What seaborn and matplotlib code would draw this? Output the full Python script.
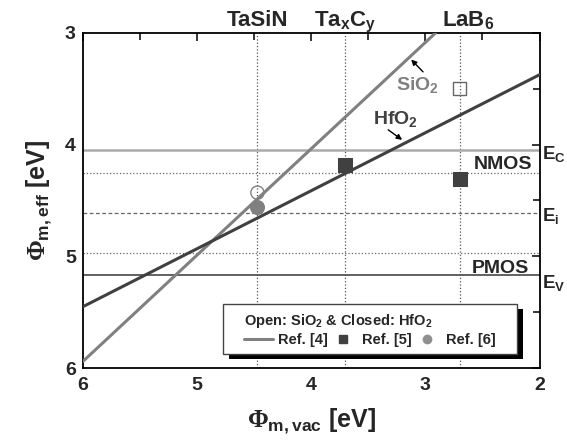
import matplotlib
matplotlib.use("Agg")
import matplotlib.pyplot as plt
import seaborn as sns
from matplotlib.lines import Line2D
from matplotlib.patches import Rectangle
from matplotlib.transforms import IdentityTransform
from matplotlib.ticker import MultipleLocator

# Fermi-level pinning lines: end points (vacuum WF, effective WF)
sio2_vac = [6.0, 2.908]
sio2_eff = [5.94, 3.0]
hfo2_vac = [6.0, 2.0]
hfo2_eff = [5.45, 3.376]

# Gate metals and their vacuum work functions
metals = ["TaSiN", r"Ta$_\mathbf{x}$C$_\mathbf{y}$", r"LaB$_\mathbf{6}$"]
metal_vac = [4.47, 3.70, 2.70]
metal_label_x = [4.47, 3.70, 2.625]

# Measured effective work functions
ref5_hfo2_vac = [3.70, 2.70]
ref5_hfo2_eff = [4.18, 4.31]
ref5_sio2_vac = [2.70]
ref5_sio2_eff = [3.50]
ref6_sio2_vac = [4.47]
ref6_sio2_eff = [4.43]
ref6_hfo2_vac = [4.47]
ref6_hfo2_eff = [4.555]

# Silicon band levels and CMOS targets
e_c, e_i, e_v = 4.05, 4.61, 5.17
nmos_target, pmos_target = 4.25, 4.97

GRAY = "#808080"
DARK = "#404040"

sns.set_theme(style="white")
plt.rcParams["font.family"] = ["Liberation Sans", "DejaVu Sans"]
plt.rcParams["font.weight"] = "bold"
plt.rcParams["axes.labelweight"] = "bold"
plt.rcParams["mathtext.fontset"] = "custom"
plt.rcParams["mathtext.rm"] = "Liberation Serif"
plt.rcParams["mathtext.bf"] = "Liberation Sans:bold"
plt.rcParams["mathtext.sf"] = "Liberation Sans:bold"
plt.rcParams["mathtext.it"] = "Liberation Sans:bold"

fig = plt.figure(figsize=(5.67, 4.46), dpi=100)
ax = fig.add_axes([0.1459, 0.1742, 0.8056, 0.7525])

# reference grid of levels
for xv in metal_vac:
    ax.axvline(xv, color="#555555", ls=":", lw=0.9, zorder=1)
ax.axhline(e_c, color="#aaaaaa", lw=1.8, zorder=1)
ax.axhline(nmos_target, color="#666666", ls=":", lw=0.9, zorder=1)
ax.axhline(e_i, color="#666666", lw=0.9, dashes=(3, 2), zorder=1)
ax.axhline(pmos_target, color="#666666", ls=":", lw=0.9, zorder=1)
ax.axhline(e_v, color="#555555", lw=1.3, zorder=1)

# pinning lines
sns.lineplot(x=sio2_vac, y=sio2_eff, ax=ax, color=GRAY, lw=2.2, sort=False, zorder=3)
sns.lineplot(x=hfo2_vac, y=hfo2_eff, ax=ax, color=DARK, lw=2.2, sort=False, zorder=3)

# data points
sns.scatterplot(x=ref5_hfo2_vac, y=ref5_hfo2_eff, ax=ax, marker="s", s=90,
                color=DARK, edgecolor=DARK, zorder=4)
sns.scatterplot(x=ref5_sio2_vac, y=ref5_sio2_eff, ax=ax, marker="s", s=80,
                facecolor="none", edgecolor="#666666", linewidth=1.0, zorder=4)
sns.scatterplot(x=ref6_sio2_vac, y=ref6_sio2_eff, ax=ax, marker="o", s=90,
                facecolor="none", edgecolor=GRAY, linewidth=1.0, zorder=4)
sns.scatterplot(x=ref6_hfo2_vac, y=ref6_hfo2_eff, ax=ax, marker="o", s=100,
                color=GRAY, edgecolor=GRAY, zorder=4)

ax.set_xlim(6, 2)
ax.set_ylim(6, 3)
ax.xaxis.set_major_locator(MultipleLocator(1))
ax.xaxis.set_minor_locator(MultipleLocator(0.5))
ax.yaxis.set_major_locator(MultipleLocator(1))
ax.yaxis.set_minor_locator(MultipleLocator(0.5))
ax.tick_params(which="both", direction="in", top=True, right=True,
               width=1.1, color="black", labelsize=14)
ax.tick_params(which="major", length=6)
ax.tick_params(which="minor", length=5)
ax.tick_params(axis="x", pad=6)
ax.tick_params(axis="y", pad=5)
for sp in ax.spines.values():
    sp.set_color("black")
    sp.set_linewidth(1.3)

ax.set_xlabel(r"$\mathrm{\Phi}_{\mathbf{m,vac}}$ [eV]", fontsize=18,
              fontweight="bold", labelpad=9)
ax.set_ylabel(r"$\mathrm{\Phi}_{\mathbf{m,eff}}$ [eV]", fontsize=18,
              fontweight="bold", labelpad=8)

# metal names above the plot
xtr = ax.get_xaxis_transform()
for name, xl in zip(metals, metal_label_x):
    ax.text(xl, 1.02, name, transform=xtr, ha="center", va="baseline",
            fontsize=16, clip_on=False)

# band level names on the right
ytr = ax.get_yaxis_transform()
for name, yb in [(r"E$_\mathbf{C}$", 4.128), (r"E$_\mathbf{i}$", 4.68),
                 (r"E$_\mathbf{V}$", 5.283)]:
    ax.text(1.006, yb, name, transform=ytr, ha="left", va="baseline",
            fontsize=13.5, clip_on=False)
ax.text(2.06, 4.218, "NMOS", ha="right", va="baseline", fontsize=14)
ax.text(2.096, 5.149, "PMOS", ha="right", va="baseline", fontsize=14)

# dielectric annotations
ax.text(3.072, 3.466, r"SiO$_\mathbf{2}$", color=GRAY, ha="center",
        va="center", fontsize=14)
ax.annotate("", xy=(3.124, 3.24), xytext=(3.02, 3.35),
            arrowprops=dict(arrowstyle="-|>", color="black", lw=1.0,
                            mutation_scale=8, shrinkA=0, shrinkB=0))
ax.text(3.264, 3.77, r"HfO$_\mathbf{2}$", color=DARK, ha="center",
        va="center", fontsize=14)
ax.annotate("", xy=(3.203, 3.958), xytext=(3.325, 3.868),
            arrowprops=dict(arrowstyle="-|>", color="black", lw=1.0,
                            mutation_scale=8, shrinkA=0, shrinkB=0))

handles = [
    Line2D([], [], color=GRAY, lw=2.2),
    Line2D([], [], marker="s", ls="none", color=DARK, markersize=6),
    Line2D([], [], marker="o", ls="none", color="#909090", markersize=6),
]
leg = ax.legend(handles, ["Ref. [4]", "Ref. [5]", "Ref. [6]"], ncol=3,
                title=r"Open: SiO$_\mathbf{2}$ & Closed: HfO$_\mathbf{2}$",
                loc="upper left", bbox_to_anchor=(0.353, 0.167),
                borderaxespad=0, frameon=False, borderpad=0,
                prop={"size": 10.5, "weight": "bold"},
                title_fontproperties={"size": 10.5, "weight": "bold"},
                alignment="left", handlelength=2.0, handletextpad=0.35,
                columnspacing=0.0, labelspacing=0.2)
leg._legend_box.sep = 2
leg.set_zorder(6)

# legend box with a solid drop shadow, padded around the entries
fig.canvas.draw()
bb = leg.get_window_extent()
pad_l, pad_r, pad_t, pad_b = 21, 21, 8, 7
bx0 = bb.x0 - pad_l
by0 = bb.y0 - pad_b
bw = bb.width + pad_l + pad_r
bh = bb.height + pad_t + pad_b
shadow = Rectangle((bx0 + 6, by0 - 5), bw, bh, transform=IdentityTransform(),
                   facecolor="black", edgecolor="none", zorder=5.5, clip_on=False)
frame = Rectangle((bx0, by0), bw, bh, transform=IdentityTransform(),
                  facecolor="white", edgecolor="#444444", lw=1.0,
                  zorder=5.8, clip_on=False)
ax.add_artist(shadow)
ax.add_artist(frame)

fig.savefig("out.png", dpi=100)
